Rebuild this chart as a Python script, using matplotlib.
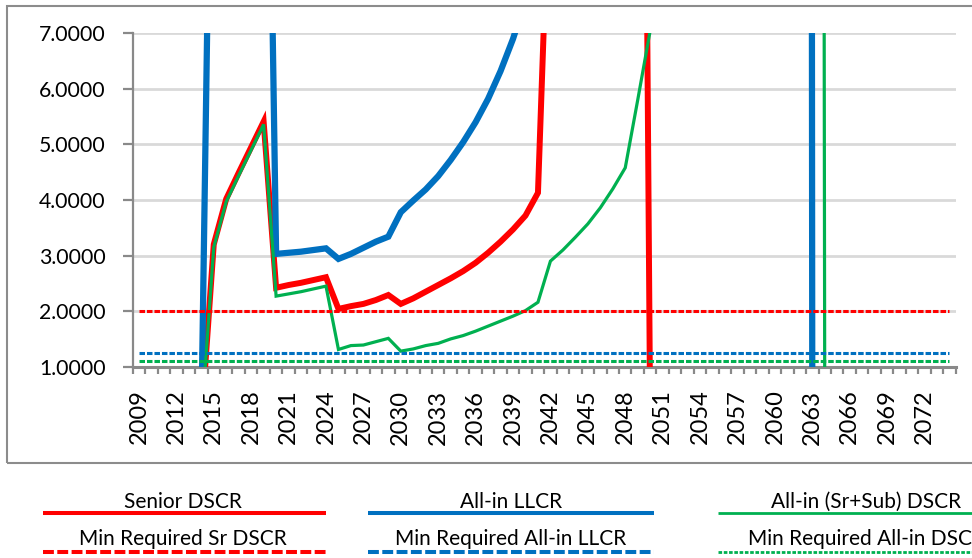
import matplotlib
matplotlib.use("Agg")
import matplotlib.pyplot as plt
from matplotlib.lines import Line2D
from matplotlib.patches import Rectangle
import numpy as np

# ---------------- data ----------------
years = list(range(2009, 2075))

senior_dscr = [0, 0, 0, 0, 0, 0,
               3.20, 4.02, 4.49, 4.95, 5.41,
               2.42, 2.47, 2.51, 2.56, 2.61,
               2.04, 2.09, 2.13, 2.20, 2.29,
               2.13, 2.23, 2.35, 2.47, 2.59,
               2.72, 2.87, 3.05, 3.25, 3.47,
               3.72, 4.13, 10.5, 11.8, 13.2,
               14.8, 16.7, 19.2, 23.5, 30.0,
               0, 0, 0, 0, 0,
               0, 0, 0, 0, 0, 0, 0, 0, 0, 0,
               0, 0, 0, 0, 0, 0, 0, 0, 0, 0]

allin_llcr = [0, 0, 0, 0, 0, 0,
              15.0, 15.6, 16.2, 16.9, 17.6,
              3.03, 3.05, 3.07, 3.10, 3.13,
              2.94, 3.03, 3.14, 3.25, 3.34,
              3.78, 3.99, 4.19, 4.43, 4.72,
              5.04, 5.40, 5.82, 6.32, 6.90,
              7.6, 8.4, 9.3, 10.4, 11.6,
              13.0, 14.6, 16.5, 18.7, 21.3,
              24.4, 28.0, 32.3, 37.5, 43.8,
              51.5, 61.0, 73.0, 88.5, 109.0,
              137.0, 178.0, 240.0, 0, 0,
              0, 0, 0, 0, 0,
              0, 0, 0, 0, 0]

allin_dscr = [0, 0, 0, 0, 0, 0,
              3.15, 3.97, 4.44, 4.90, 5.36,
              2.27, 2.31, 2.35, 2.40, 2.45,
              1.31, 1.38, 1.39, 1.45, 1.51,
              1.28, 1.32, 1.38, 1.42, 1.50,
              1.56, 1.64, 1.73, 1.82, 1.91,
              2.01, 2.16, 2.90, 3.10, 3.33,
              3.57, 3.86, 4.20, 4.58, 5.80,
              7.05, 8.7, 10.6, 12.9, 15.8,
              19.4, 24.0, 29.8, 37.4, 47.5,
              61.0, 80.0, 108.0, 150.0, 0,
              0, 0, 0, 0, 0, 0, 0, 0, 0, 0]

min_sr_dscr = 2.00
min_allin_llcr = 1.25
min_allin_dscr = 1.10

series_labels = ["Senior DSCR", "All-in LLCR", "All-in (Sr+Sub) DSCR",
                 "Min Required Sr DSCR", "Min Required All-in LLCR",
                 "Min Required All-in DSCR"]
y_ticks = [1, 2, 3, 4, 5, 6, 7]

# ---------------- style ----------------
RED = "#FF0000"
BLUE = "#0070C0"
GREEN = "#00B050"
AXGRAY = "#898989"
GRID = "#D9D9D9"
FONT = "Lato"

W, H = 972, 558
fig = plt.figure(figsize=(W / 100, H / 100), dpi=100)

def fx(px):
    return px / W

def fy(py):
    return 1 - py / H

# outer chart border (extends beyond right edge)
fig.patches.append(Rectangle((fx(7.3), fy(463)), fx(1000), fy(6) - fy(463),
                             transform=fig.transFigure, fill=False,
                             edgecolor="#8C8C8C", linewidth=1.5))

ax_l, ax_r, ax_t, ax_b = 132.7, 955.7, 33.3, 366.7
ax = fig.add_axes([fx(ax_l), fy(ax_b), fx(ax_r - ax_l), (ax_b - ax_t) / H])

x = np.arange(len(years))
n = len(years)

ax.plot(x, senior_dscr, color=RED, lw=4.3, zorder=3, solid_joinstyle="miter")
ax.plot(x, allin_llcr, color=BLUE, lw=4.5, zorder=4, solid_joinstyle="miter")
ax.plot(x, allin_dscr, color=GREEN, lw=2.3, zorder=5, solid_joinstyle="miter")

dash_plot = (0, (1.8, 0.65))
ax.plot(x, [min_sr_dscr] * n, color=RED, lw=2.2, ls=dash_plot, zorder=6)
ax.plot(x, [min_allin_llcr] * n, color=BLUE, lw=2.2, ls=dash_plot, zorder=7)
ax.plot(x, [min_allin_dscr] * n, color=GREEN, lw=2.2, ls=dash_plot, zorder=8)

ax.set_xlim(-0.5, n - 0.5)
ax.set_ylim(1, 7)

# axes styling
for s in ["top", "right"]:
    ax.spines[s].set_visible(False)
ax.spines["left"].set_color(AXGRAY)
ax.spines["left"].set_linewidth(1.6)
ax.spines["bottom"].set_color(AXGRAY)
ax.spines["bottom"].set_linewidth(2.2)
ax.set_axisbelow(True)
ax.yaxis.grid(True, color=GRID, lw=2.0)
ax.set_facecolor("white")

ax.set_yticks(y_ticks)
ax.set_yticklabels([f"{v:.4f}" for v in y_ticks], fontname=FONT, fontsize=15.3)
ax.tick_params(axis="y", length=7.5, width=1.6, color=AXGRAY, pad=12.0)

major = x[::3]
ax.set_xticks(major)
ax.set_xticklabels([str(years[i]) for i in major], rotation=90,
                   fontname=FONT, fontsize=17)
ax.set_xticks(np.arange(-0.5, n, 1.0), minor=True)
ax.tick_params(axis="x", which="major", length=0, pad=16.5)
ax.tick_params(axis="x", which="minor", length=5, width=1.6, color=AXGRAY)

# ---------------- legend (manual, text above line) ----------------
leg_fs = 15
cols = [(42.5, 326.0, 183.0), (367.5, 654.0, 511.0), (717.5, 1014.0, 866.0)]
colors = [RED, BLUE, GREEN]
solid_w = [2.9, 2.9, 2.0]
row1_text_y, row1_line_y = 508.3, 512.7
row2_text_y, row2_line_y = 545.0, 551.7

for i, ((x1, x2, xc), c) in enumerate(zip(cols, colors)):
    fig.text(fx(xc), fy(row1_text_y), series_labels[i], ha="center",
             va="baseline", fontname=FONT, fontsize=leg_fs, color="black")
    fig.lines.append(Line2D([fx(x1), fx(x2)], [fy(row1_line_y)] * 2,
                            transform=fig.transFigure, color=c,
                            lw=solid_w[i], solid_capstyle="butt"))
    fig.text(fx(xc), fy(row2_text_y), series_labels[i + 3], ha="center",
             va="baseline", fontname=FONT, fontsize=leg_fs, color="black")
    if i < 2:
        ls = (0, (2.7, 0.85))
        lw = 2.9
    else:
        ls = (0, (1.3, 0.6))
        lw = 2.0
    fig.lines.append(Line2D([fx(x1), fx(x2)], [fy(row2_line_y)] * 2,
                            transform=fig.transFigure, color=c, lw=lw,
                            ls=ls, dash_capstyle="butt"))

fig.savefig("out.png", dpi=100, facecolor="white")
